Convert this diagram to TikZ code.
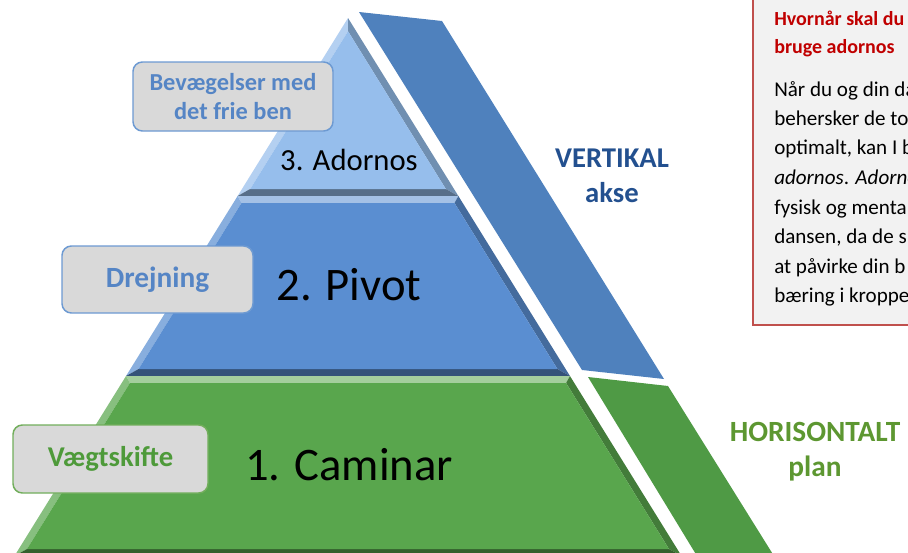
\documentclass[tikz,border=0pt]{standalone}
\usepackage{fontspec}
\setmainfont{Carlito}
\begin{document}
\begin{tikzpicture}[x=0.75pt,y=-0.75pt]
\definecolor{topblue}{HTML}{96BEEC}
\definecolor{midblue}{HTML}{5A8ED1}
\definecolor{lowgreen}{HTML}{59A64D}
\definecolor{stripblue}{HTML}{4F81BD}
\definecolor{stripgreen}{HTML}{4F9A45}
\definecolor{labelblue}{HTML}{5585C5}
\definecolor{labelblueline}{HTML}{6D9AD2}
\definecolor{labelgreen}{HTML}{4E9A3A}
\definecolor{labelgreenline}{HTML}{72AE5C}
\definecolor{labelgray}{HTML}{D9D9D9}
\definecolor{axisblue}{HTML}{23508F}
\definecolor{planegreen}{HTML}{5D9731}
\definecolor{notered}{HTML}{C00000}
\definecolor{noteline}{HTML}{C0504D}
\definecolor{notefill}{HTML}{F2F2F2}
\tikzset{
  levelbox/.style={draw, line width=1.1pt, rounded corners=7pt, fill=labelgray,
    inner sep=0pt, align=center, font=\bfseries},
  leveltext/.style={font=#1, text=black, inner sep=0pt},
  axistext/.style={font=\fontsize{21.5}{26}\selectfont\bfseries, align=center, inner sep=0pt},
  notetext/.style={anchor=base west, inner sep=0pt, font=\fontsize{15.8}{19}\selectfont},
  notehead/.style={anchor=base west, inner sep=0pt, text=notered, font=\fontsize{15}{18}\selectfont\bfseries}
}
\useasboundingbox (0,0) rectangle (908,553);
\clip (0,0) rectangle (908,553);

% one bevelled level of the pyramid: top y, bottom y, colour, inset of inner top
\newcommand\pyrband[4]{%
  \pgfmathsetmacro\bLt{348-0.62*(#1-18)}%
  \pgfmathsetmacro\bRt{348+0.62*(#1-18)}%
  \pgfmathsetmacro\bLb{348-0.62*(#2-18)}%
  \pgfmathsetmacro\bRb{348+0.62*(#2-18)}%
  \pgfmathsetmacro\bti{#1+#4}%
  \pgfmathsetmacro\bbi{#2-7}%
  \pgfmathsetmacro\bLti{348-0.62*(\bti-18)+8.2}%
  \pgfmathsetmacro\bRti{348+0.62*(\bti-18)-8.2}%
  \pgfmathsetmacro\bLbi{348-0.62*(\bbi-18)+8.2}%
  \pgfmathsetmacro\bRbi{348+0.62*(\bbi-18)-8.2}%
  \fill[#3!55!white] (\bLt,#1) -- (\bRt,#1) -- (\bRti,\bti) -- (\bLti,\bti) -- cycle;
  \fill[#3!72!white] (\bLt,#1) -- (\bLti,\bti) -- (\bLbi,\bbi) -- (\bLb,#2) -- cycle;
  \fill[#3!75!black] (\bRt,#1) -- (\bRti,\bti) -- (\bRbi,\bbi) -- (\bRb,#2) -- cycle;
  \fill[#3!58!black] (\bLb,#2) -- (\bLbi,\bbi) -- (\bRbi,\bbi) -- (\bRb,#2) -- cycle;
  \fill[#3] (\bLti,\bti) -- (\bRti,\bti) -- (\bRbi,\bbi) -- (\bLbi,\bbi) -- cycle;
}

% pyramid levels
\pyrband{18}{196}{topblue}{13.3}
\pyrband{196}{376}{midblue}{7}
\pyrband{376}{556}{lowgreen}{7}

% side strips
\fill[stripblue] (359,12) -- (442,21) -- (664,379) -- (582,370) -- cycle;
\fill[stripgreen] (588,377) -- (668,386) -- (774,556) -- (697,556) -- cycle;

% level titles
\node[leveltext=\fontsize{23}{28}\selectfont] (adornos) at (349,160) {3. Adornos};
\node[leveltext=\fontsize{35}{42}\selectfont] (pivot) at (349,285) {2. Pivot};
\node[leveltext=\fontsize{35}{42}\selectfont] (caminar) at (349,465) {1. Caminar};

% side labels
\node[levelbox, draw=labelblueline, text=labelblue, minimum width=150pt, minimum height=51.75pt,
  font=\fontsize{18.3}{22}\selectfont\bfseries] (frieben) at (233,96.5) {Bevægelser med\\det frie ben};
\node[levelbox, draw=labelblueline, text=labelblue, minimum width=143.25pt, minimum height=50.25pt,
  font=\fontsize{22}{26}\selectfont\bfseries] (drejning) at (157.5,279.5) {Drejning};
\node[levelbox, draw=labelgreenline, text=labelgreen, minimum width=146.25pt, minimum height=51pt,
  font=\fontsize{21.5}{26}\selectfont\bfseries] (vaegt) at (110.5,459) {Vægtskifte};

% axis captions
\node[axistext, text=axisblue] (vertikal) at (612,176) {VERTIKAL\\akse};
\node[axistext, text=planegreen, font=\fontsize{22}{26}\selectfont\bfseries] (horisont) at (815,452) {HORISONTALT\\plan};

% note box
\draw[noteline, fill=notefill, line width=0.8pt] (753,-5) rectangle (915,325);
\node[notehead] (q1) at (774,26) {Hvornår skal du};
\node[notehead] (q2) at (774,53) {bruge adornos};
\node[notetext] (n1) at (774,96) {Når du og din da};
\node[notetext] (n2) at (774,125) {behersker de to};
\node[notetext] (n3) at (774,154) {optimalt, kan I b};
\node[notetext] (n4) at (774,184) {\textit{adornos}. \textit{Adorno}};
\node[notetext] (n5) at (774,214) {fysisk og menta};
\node[notetext] (n6) at (774,243.5) {dansen, da de s};
\node[notetext] (n7) at (774,273) {at påvirke din b};
\node[notetext] (n8) at (774,302.5) {bæring i kroppe};
\end{tikzpicture}
\end{document}
